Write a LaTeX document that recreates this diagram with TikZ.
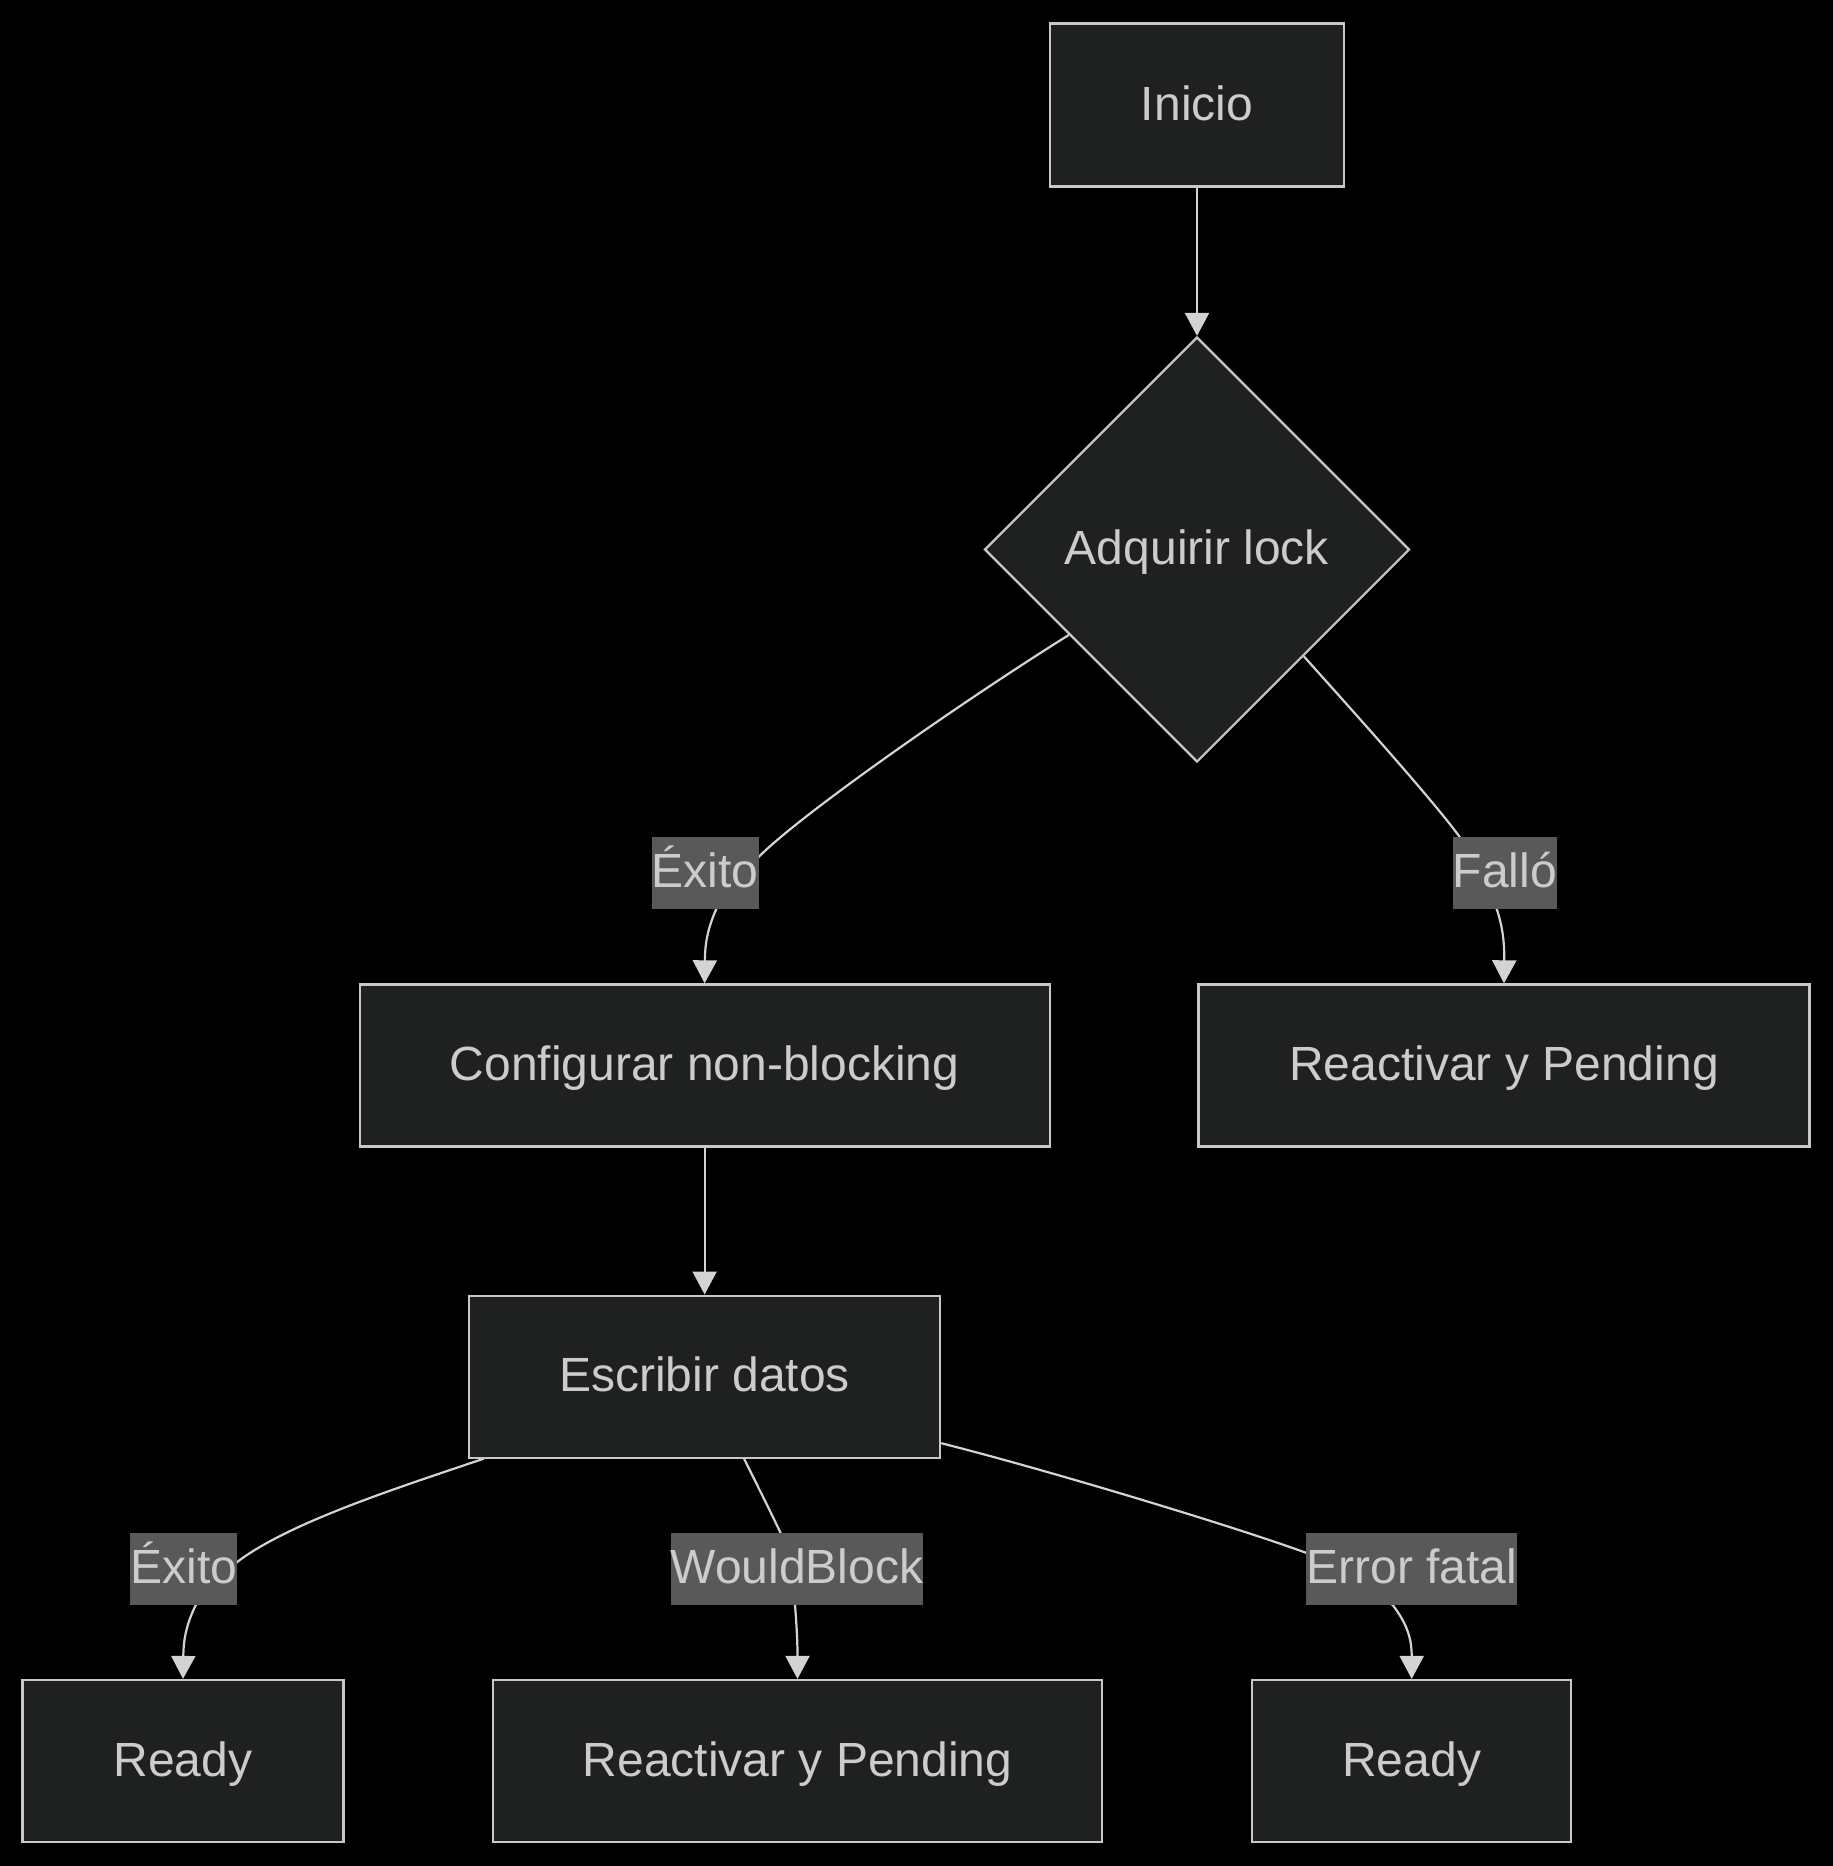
\documentclass[tikz,border=0pt]{standalone}
\usepackage{fontspec}
\setmainfont{Liberation Sans}
\usetikzlibrary{arrows.meta,shapes.geometric,calc,backgrounds}
\definecolor{bgc}{HTML}{000000}
\definecolor{nodefill}{HTML}{1F2020}
\definecolor{nodeline}{HTML}{C8C8C8}
\definecolor{txt}{HTML}{CCCCCC}
\definecolor{edgec}{HTML}{D3D3D3}
\definecolor{lblfill}{HTML}{595959}
\pgfdeclarelayer{canvas}
\pgfsetlayers{canvas,background,main}
\begin{document}
\begin{tikzpicture}[x=1pt,y=-1pt,
  every node/.style={font=\fontsize{48pt}{58pt}\selectfont, text=txt,
    text height=43pt, text depth=13pt},
  box/.style={draw=nodeline, fill=nodefill, line width=2.2pt, rectangle,
    minimum height=162pt, inner sep=0pt},
  decision/.style={draw=nodeline, fill=nodefill, line width=2.2pt, diamond,
    minimum width=425pt, minimum height=425pt, inner sep=0pt},
  elabel/.style={fill=lblfill, inner xsep=0pt, inner ysep=0pt,
    minimum height=72pt},
  edge/.style={draw=edgec, line width=2.2pt,
    -{Triangle[length=23pt,width=24pt]}}]
  % canvas
  \begin{pgfonlayer}{canvas}
    \fill[bgc] (0,0) rectangle (1833,1866);
  \end{pgfonlayer}
  \useasboundingbox (0,0) rectangle (1833,1866);

  % nodes
  \node[box, minimum width=294pt, minimum height=163pt] (ini) at (1197,105) {Inicio};
  \node[decision] (dia) at (1197,549.5) {Adquirir lock};
  \node[box, minimum width=690pt] (cfg) at (704.6,1065.4) {Configurar non-blocking};
  \node[box, minimum width=611pt] (rp1) at (1504,1065.4) {Reactivar y Pending};
  \node[box, minimum width=471pt] (esc) at (704.6,1376.6) {Escribir datos};
  \node[box, minimum width=321pt] (rd1) at (183,1761) {Ready};
  \node[box, minimum width=609pt] (rp2) at (797.5,1761) {Reactivar y Pending};
  \node[box, minimum width=319pt] (rd2) at (1411.7,1761) {Ready};

  % edge labels
  \node[elabel] (l1) at (705.3,872.8) {Éxito};
  \node[elabel] (l2) at (1504.7,872.8) {Falló};
  \node[elabel] (l3) at (183.8,1568.8) {Éxito};
  \node[elabel] (l4) at (797,1568.8) {WouldBlock};
  \node[elabel] (l5) at (1411.7,1568.8) {Error fatal};

  % connectors, kept under the nodes
  \begin{scope}[on background layer]
    \draw[edge] (ini.south) -- (dia.north);
    \draw[edge] ($(dia.west)!0.4!(dia.south)$)
      .. controls (960,703) and (800,815) .. ($(l1.east)+(0,-16)$)
      -- ($(l1.south)+(11,0)$)
      .. controls (707,930) and (705,945) .. (cfg.north);
    \draw[edge] ($(dia.east)!0.5!(dia.south)$)
      .. controls (1360,719) and (1430,797) .. ($(l2.north west)+(7,0)$)
      -- ($(l2.south)+(-8,0)$)
      .. controls (1502,925) and (1504.5,940) .. (rp1.north);
    \draw[edge] (cfg.south) -- (esc.north);
    \draw[edge] ($(esc.south west)!0.033!(esc.south east)$)
      .. controls (400,1487) and (290,1522) .. ($(l3.east)+(0,-7)$)
      -- ($(l3.south)+(12,0)$)
      .. controls (186,1625) and (183.5,1640) .. (rd1.north);
    \draw[edge] ($(esc.south)+(39.5,0)$)
      .. controls (762,1495) and (780,1530) .. (l4.center)
      -- ($(l4.south)+(-2,0)$)
      .. controls (797,1630) and (797.5,1645) .. (rp2.north);
    \draw[edge] ($(esc.south east)+(0,-15.5)$)
      .. controls (1040,1468) and (1230,1525) .. ($(l5.west)+(0,-16)$)
      -- ($(l5.south)+(-19,0)$)
      .. controls (1408,1625) and (1411.7,1640) .. (rd2.north);
  \end{scope}
\end{tikzpicture}
\end{document}
